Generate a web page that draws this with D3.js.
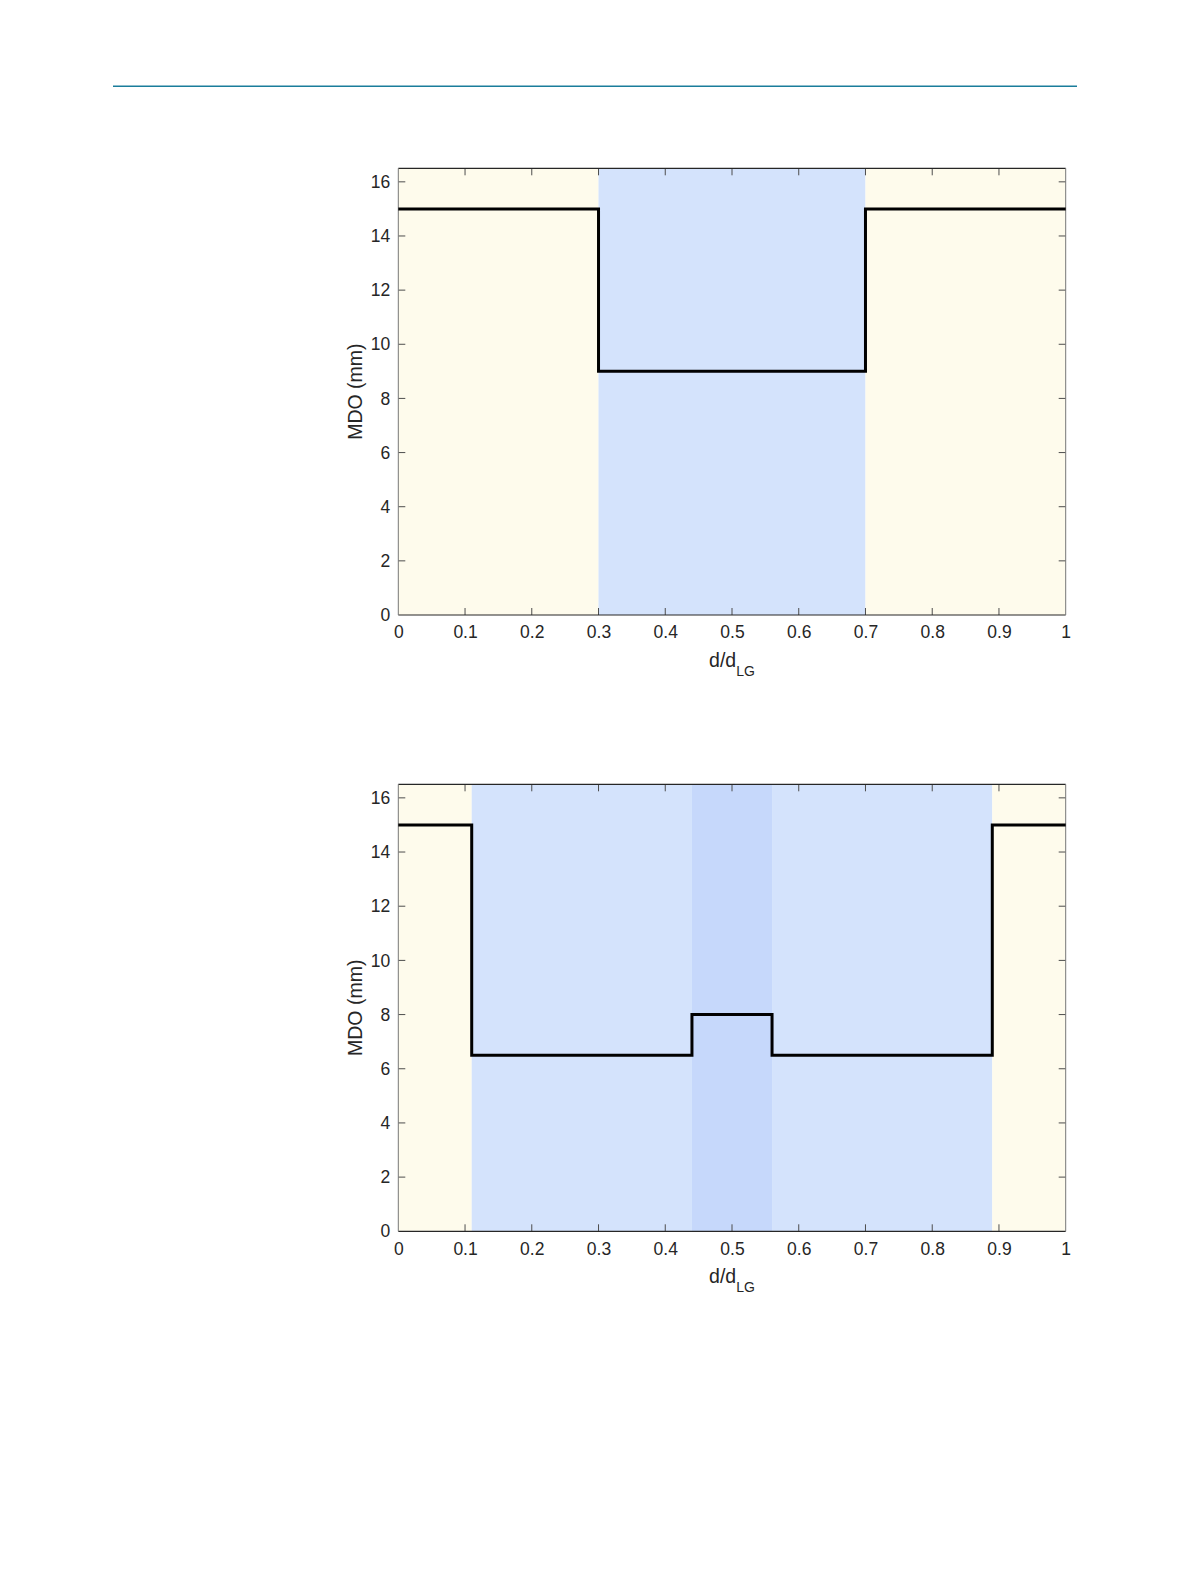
<!DOCTYPE html>
<html>
<head>
<meta charset="utf-8">
<script src="https://cdn.jsdelivr.net/npm/d3@7"></script>
<style>
  html, body { margin: 0; padding: 0; background: #ffffff; }
  svg { display: block; }
  text { font-family: "Liberation Sans", Arial, Helvetica, sans-serif; fill: #262626; }
</style>
</head>
<body>
<script>
// ---- data ----
const xTicks = [0, 0.1, 0.2, 0.3, 0.4, 0.5, 0.6, 0.7, 0.8, 0.9, 1];
const xTickLabels = ["0", "0.1", "0.2", "0.3", "0.4", "0.5", "0.6", "0.7", "0.8", "0.9", "1"];
const yTicks = [0, 2, 4, 6, 8, 10, 12, 14, 16];
const yTickLabels = ["0", "2", "4", "6", "8", "10", "12", "14", "16"];

// chart 1: region bounds and MDO step values
const regions1 = [0, 0.3, 0.7, 1];
const regionKinds1 = ["outer", "inner", "outer"];
const stepX1 = [0, 0.3, 0.7, 1];
const stepMDO1 = [15, 9, 15];

// chart 2
const regions2 = [0, 0.11, 0.44, 0.56, 0.89, 1];
const regionKinds2 = ["outer", "inner", "core", "inner", "outer"];
const stepX2 = [0, 0.11, 0.44, 0.56, 0.89, 1];
const stepMDO2 = [15, 6.5, 8, 6.5, 15];

const xLabel = "d/d";
const xLabelSub = "LG";
const yLabel = "MDO (mm)";

// ---- style ----
const regionColors = { outer: "#fefbec", inner: "#d4e3fc", core: "#c6d8fb" };

const W = 1191, H = 1584;
const svg = d3.select("body").append("svg").attr("width", W).attr("height", H);
svg.append("rect").attr("width", W).attr("height", H).attr("fill", "#ffffff");

// header rule
svg.append("line").attr("x1", 113).attr("x2", 1077).attr("y1", 86.3).attr("y2", 86.3)
  .attr("stroke", "#1a7d9b").attr("stroke-width", 1.4);

function drawChart(top, bottom, bounds, kinds, sx, sy) {
  const left = 398.3, right = 1065.7;
  const x = d3.scaleLinear().domain([0, 1]).range([left, right]);
  const y = d3.scaleLinear().domain([0, 16.5]).range([bottom, top]);
  const g = svg.append("g");

  // shaded regions
  const regs = kinds.map((k, i) => ({ k, a: bounds[i], b: bounds[i + 1] }));
  g.selectAll("rect.reg").data(regs).enter().append("rect")
    .attr("x", d => x(d.a)).attr("width", d => x(d.b) - x(d.a))
    .attr("y", top).attr("height", bottom - top)
    .attr("fill", d => regionColors[d.k]);

  // axes
  const tickColor = "#4d4d4d";
  const axB = g.append("g").attr("transform", `translate(0,${bottom})`)
    .call(d3.axisBottom(x).tickValues(xTicks).tickFormat((d, i) => xTickLabels[i]).tickSize(0).tickPadding(11));
  const axL = g.append("g").attr("transform", `translate(${left},0)`)
    .call(d3.axisLeft(y).tickValues(yTicks).tickFormat((d, i) => yTickLabels[i]).tickSize(0).tickPadding(8));
  [axB, axL].forEach(a => {
    a.select(".domain").remove();
    a.selectAll("text").attr("font-size", 17.5).attr("fill", "#262626")
      .style("font-family", '"Liberation Sans", Arial, sans-serif');
  });

  // inward ticks on all four sides
  const tl = 7;
  const innerX = xTicks.filter(v => v > 0 && v < 1);
  const innerY = yTicks.filter(v => v > 0);
  innerX.forEach(v => {
    g.append("line").attr("x1", x(v)).attr("x2", x(v)).attr("y1", bottom).attr("y2", bottom - tl)
      .attr("stroke", tickColor).attr("stroke-width", 1);
    g.append("line").attr("x1", x(v)).attr("x2", x(v)).attr("y1", top).attr("y2", top + tl)
      .attr("stroke", tickColor).attr("stroke-width", 1);
  });
  innerY.forEach(v => {
    g.append("line").attr("x1", left).attr("x2", left + tl).attr("y1", y(v)).attr("y2", y(v))
      .attr("stroke", tickColor).attr("stroke-width", 1);
    g.append("line").attr("x1", right).attr("x2", right - tl).attr("y1", y(v)).attr("y2", y(v))
      .attr("stroke", tickColor).attr("stroke-width", 1);
  });

  // box
  g.append("line").attr("x1", left).attr("x2", right).attr("y1", top).attr("y2", top).attr("stroke", "#262626").attr("stroke-width", 1.2);
  g.append("line").attr("x1", left).attr("x2", right).attr("y1", bottom).attr("y2", bottom).attr("stroke", "#262626").attr("stroke-width", 1.2);
  g.append("line").attr("x1", left).attr("x2", left).attr("y1", top).attr("y2", bottom).attr("stroke", "#777777").attr("stroke-width", 1);
  g.append("line").attr("x1", right).attr("x2", right).attr("y1", top).attr("y2", bottom).attr("stroke", "#777777").attr("stroke-width", 1);

  // step line
  const pts = sy.map((v, i) => [sx[i], v]);
  pts.push([sx[sx.length - 1], sy[sy.length - 1]]);
  const line = d3.line().x(d => x(d[0])).y(d => y(d[1])).curve(d3.curveStepAfter);
  g.append("path").datum(pts).attr("d", line)
    .attr("fill", "none").attr("stroke", "#000000").attr("stroke-width", 3).attr("stroke-linejoin", "miter");

  // x label
  const xl = g.append("text").attr("x", (left + right) / 2).attr("y", bottom + 52)
    .attr("text-anchor", "middle").attr("font-size", 19.5);
  xl.append("tspan").text(xLabel);
  xl.append("tspan").attr("font-size", 14).attr("dy", 9).text(xLabelSub);

  // y label
  g.append("text").attr("transform", `translate(${left - 36.5},${(top + bottom) / 2}) rotate(-90)`)
    .attr("text-anchor", "middle").attr("font-size", 19.5).text(yLabel);
}

drawChart(168.3, 615, regions1, regionKinds1, stepX1, stepMDO1);
drawChart(784.3, 1231.3, regions2, regionKinds2, stepX2, stepMDO2);
</script>
</body>
</html>
